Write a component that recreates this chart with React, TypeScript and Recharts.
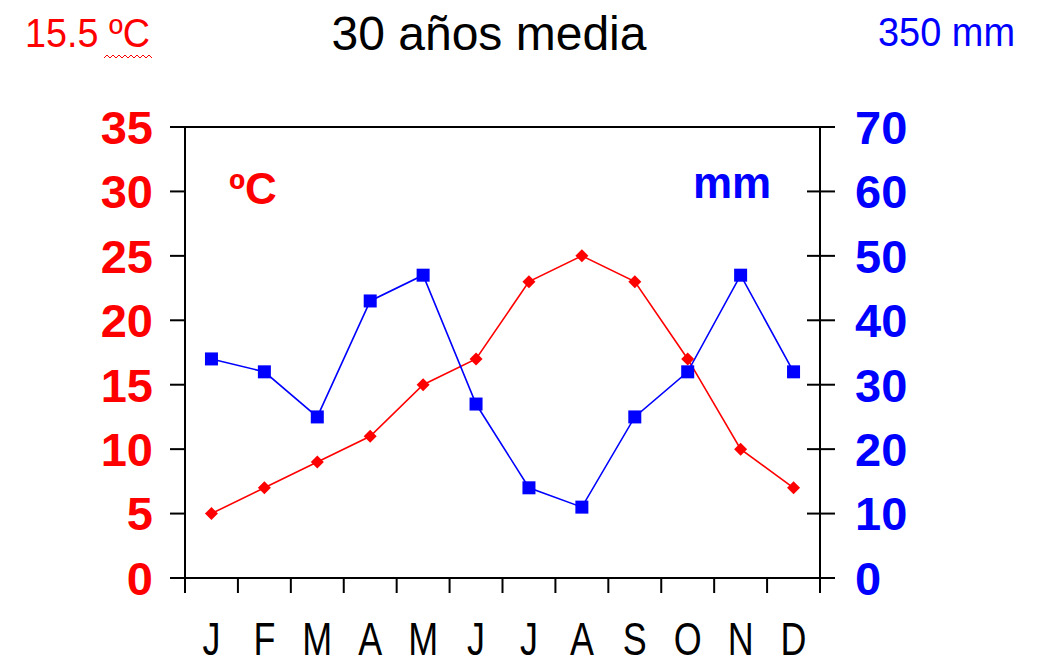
import React from "react";
import {
  ComposedChart,
  Line,
  XAxis,
  YAxis,
  ReferenceLine,
} from "recharts";

const months = ["J", "F", "M", "A", "M", "J", "J", "A", "S", "O", "N", "D"];
const temperature = [5, 7, 9, 11, 15, 17, 23, 25, 23, 17, 10, 7];
const precipitation = [34, 32, 25, 43, 47, 27, 14, 11, 25, 32, 47, 32];
const tempTicks = [0, 5, 10, 15, 20, 25, 30, 35];
const precipTicks = [0, 10, 20, 30, 40, 50, 60, 70];

const data = months.map((m, i) => ({
  month: m,
  pos: i + 0.5,
  temp: temperature[i],
  precip: precipitation[i],
}));

const xTicks = Array.from({ length: 25 }, (_, i) => i / 2);

const RED = "#ff0000";
const BLUE = "#0000ff";
const FONT = "Arial, 'Liberation Sans', sans-serif";

const Diamond = (props: any) => {
  const { cx, cy } = props;
  if (cx == null || cy == null) return null;
  const r = 6.5;
  return (
    <path
      d={`M${cx},${cy - r}L${cx + r},${cy}L${cx},${cy + r}L${cx - r},${cy}Z`}
      fill={RED}
    />
  );
};

const Square = (props: any) => {
  const { cx, cy } = props;
  if (cx == null || cy == null) return null;
  const s = 13;
  return <rect x={cx - s / 2} y={cy - s / 2} width={s} height={s} fill={BLUE} />;
};

const LeftTick = (props: any) => {
  const { x, y, payload } = props;
  return (
    <text
      x={x}
      y={y}
      dy="0.36em"
      textAnchor="end"
      fill={RED}
      fontSize={47}
      fontWeight="bold"
      fontFamily={FONT}
    >
      {payload.value}
    </text>
  );
};

const RightTick = (props: any) => {
  const { x, y, payload } = props;
  // inner half of the crossing tick mark
  const axisX = x - 35;
  return (
    <g>
      <line x1={axisX - 13} y1={y} x2={axisX} y2={y} stroke="#000" strokeWidth={2} />
      <text
        x={x}
        y={y}
        dy="0.36em"
        textAnchor="start"
        fill={BLUE}
        fontSize={47}
        fontWeight="bold"
        fontFamily={FONT}
      >
        {payload.value}
      </text>
    </g>
  );
};

const MonthTick = (props: any) => {
  const { x, y, payload } = props;
  const v = payload.value as number;
  if (Number.isInteger(v)) {
    return <line x1={x} y1={y} x2={x} y2={y + 15} stroke="#000" strokeWidth={2} />;
  }
  const label = months[Math.floor(v)];
  return (
    <text
      transform={`translate(${x},655) scale(0.78,1)`}
      textAnchor="middle"
      fill="#000"
      fontSize={46}
      fontFamily={FONT}
    >
      {label}
    </text>
  );
};

export default function App() {
  return (
    <div
      style={{
        position: "absolute",
        left: 0,
        top: 0,
        width: 1043,
        height: 665,
        background: "#fff",
        fontFamily: FONT,
      }}
    >
      <ComposedChart
        width={1043}
        height={665}
        data={data}
        margin={{ top: 127, right: 0, bottom: 0, left: 0 }}
      >
        <XAxis
          dataKey="pos"
          type="number"
          domain={[0, 12]}
          ticks={xTicks}
          interval={0}
          height={87}
          tickLine={false}
          tickSize={0}
          tickMargin={0}
          axisLine={{ stroke: "#000", strokeWidth: 2 }}
          tick={<MonthTick />}
        />
        <YAxis
          yAxisId="t"
          orientation="left"
          width={185}
          domain={[0, 35]}
          ticks={tempTicks}
          interval={0}
          tickSize={15}
          tickMargin={17}
          axisLine={{ stroke: "#000", strokeWidth: 2 }}
          tickLine={{ stroke: "#000", strokeWidth: 2 }}
          tick={<LeftTick />}
        />
        <YAxis
          yAxisId="p"
          orientation="right"
          width={223}
          domain={[0, 70]}
          ticks={precipTicks}
          interval={0}
          tickSize={15}
          tickMargin={20}
          axisLine={{ stroke: "#000", strokeWidth: 2 }}
          tickLine={{ stroke: "#000", strokeWidth: 2 }}
          tick={<RightTick />}
        />
        <ReferenceLine yAxisId="t" y={35} stroke="#000" strokeWidth={2} />
        <Line
          yAxisId="t"
          dataKey="temp"
          stroke={RED}
          strokeWidth={1.6}
          dot={<Diamond />}
          isAnimationActive={false}
          type="linear"
        />
        <Line
          yAxisId="p"
          dataKey="precip"
          stroke={BLUE}
          strokeWidth={1.6}
          dot={<Square />}
          isAnimationActive={false}
          type="linear"
        />
      </ComposedChart>
      <svg
        width={1043}
        height={665}
        style={{ position: "absolute", left: 0, top: 0, pointerEvents: "none" }}
      >
        <text x={25} y={47} fill={RED} fontSize={40} fontFamily={FONT} textLength={125} lengthAdjust="spacingAndGlyphs">
          15.5 ºC
        </text>
        <polyline
          points="104,58 107,55 110,58 113,55 116,58 119,55 122,58 125,55 128,58 131,55 134,58 137,55 140,58 143,55 146,58 149,55 152,58"
          fill="none"
          stroke={RED}
          strokeWidth={1}
        />
        <text x={489} y={50} textAnchor="middle" fill="#000" fontSize={48} fontFamily={FONT}>
          30 años media
        </text>
        <text x={878} y={46} fill={BLUE} fontSize={40} fontFamily={FONT} textLength={137} lengthAdjust="spacingAndGlyphs">
          350 mm
        </text>
        <text x={229} y={204} fill={RED} fontSize={44} fontWeight="bold" fontFamily={FONT}>
          ºC
        </text>
        <text x={693} y={198} fill={BLUE} fontSize={44} fontWeight="bold" fontFamily={FONT}>
          mm
        </text>
      </svg>
    </div>
  );
}
